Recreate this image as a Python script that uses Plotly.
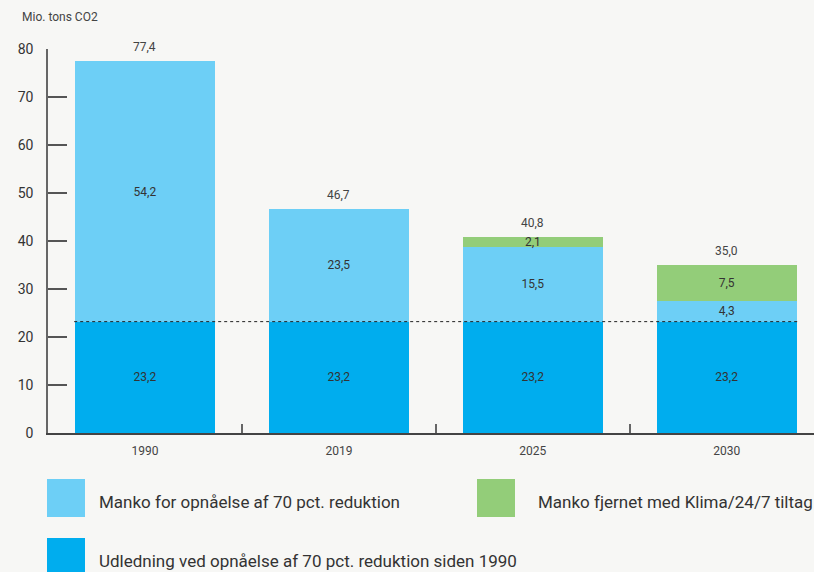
import plotly.graph_objects as go

years = ["1990", "2019", "2025", "2030"]
base = [23.2, 23.2, 23.2, 23.2]          # Udledning ved opnåelse af 70 pct. reduktion
manko = [54.2, 23.5, 15.5, 4.3]          # Manko for opnåelse af 70 pct. reduktion
fjernet = [0.0, 0.0, 2.1, 7.5]           # Manko fjernet med Klima/24/7 tiltag
y_ticks = [0, 10, 20, 30, 40, 50, 60, 70, 80]

names = [
    "Udledning ved opnåelse af 70 pct. reduktion siden 1990",
    "Manko for opnåelse af 70 pct. reduktion",
    "Manko fjernet med Klima/24/7 tiltag",
]
colors = ["#00adee", "#6dcff6", "#93cd79"]
FONT = "Roboto"
BG = "#f7f7f5"


def fmt(v):
    return f"{v:.1f}".replace(".", ",")


fig = go.Figure()
for vals, name, col in zip([base, manko, fjernet], names, colors):
    fig.add_trace(go.Bar(
        x=years, y=vals, name=name, marker=dict(color=col, line=dict(width=0)),
        width=0.722,
        text=[fmt(v) if v > 0 else "" for v in vals],
        textposition="inside", insidetextanchor="middle", textangle=0,
        constraintext="none",
        textfont=dict(family=FONT, size=12, color="#333333"),
        showlegend=False, hoverinfo="skip",
    ))

totals = [a + b + c for a, b, c in zip(base, manko, fjernet)]
for i, t in enumerate(totals):
    fig.add_annotation(x=i, y=t, xref="x", yref="y", text=fmt(t), showarrow=False,
                       yanchor="middle", yshift=14,
                       font=dict(family=FONT, size=12, color="#444444"))

# dotted reference line at the 70 % target level
fig.add_shape(type="line", xref="x", yref="y", x0=-0.365, x1=3.37,
              y0=base[0], y1=base[0], line=dict(color="#222222", width=1, dash="dot"))

# axis title
fig.add_annotation(xref="paper", yref="paper", x=-0.037, y=1.083, xanchor="left",
                   yanchor="middle", text="Mio. tons CO2", showarrow=False,
                   font=dict(family=FONT, size=12, color="#444444"))

# custom legend (bottom)
legend_items = [
    (names[1], colors[1], 47, 479, 97),
    (names[2], colors[2], 477, 479, 536),
    (names[0], colors[0], 47, 538, 97),
]
W, H = 814, 572
for text, col, px, py, tx in legend_items:
    fig.add_shape(type="rect", xref="paper", yref="paper",
                  x0=(px - 48) / 766, x1=(px + 38 - 48) / 766,
                  y0=(433 - (py + 38)) / 384, y1=(433 - py) / 384,
                  fillcolor=col, line=dict(width=0))
    fig.add_annotation(xref="paper", yref="paper",
                       x=(tx - 48) / 766, y=(433 - (py + 23)) / 384,
                       xanchor="left", yanchor="middle", text=text, showarrow=False,
                       font=dict(family=FONT, size=17, color="#333333"))

fig.update_layout(
    width=W, height=H, paper_bgcolor=BG, plot_bgcolor=BG,
    margin=dict(l=48, r=0, t=49, b=139),
    barmode="stack", separators=",.",
    font=dict(family=FONT, color="#333333"),
    xaxis=dict(type="category", range=[-0.5, 3.45], showline=True, linecolor="#444444",
               linewidth=1.5, ticks="inside", tickson="boundaries", ticklen=9,
               tickcolor="#666666", tickwidth=1.5, showgrid=False, zeroline=False,
               ticklabelstandoff=6,
               tickfont=dict(family=FONT, size=12, color="#444444")),
    yaxis=dict(range=[0, 80], tickvals=y_ticks, showline=True, linecolor="#666666",
               linewidth=1.5, ticks="inside", ticklen=19, tickcolor="#555555",
               tickwidth=1.5, showgrid=False, zeroline=False, ticklabelstandoff=10,
               tickfont=dict(family=FONT, size=14, color="#333333")),
)

fig.write_html("out.html", config={"displayModeBar": False},
               post_script="document.body.style.margin='0';document.body.style.overflow='hidden';")
